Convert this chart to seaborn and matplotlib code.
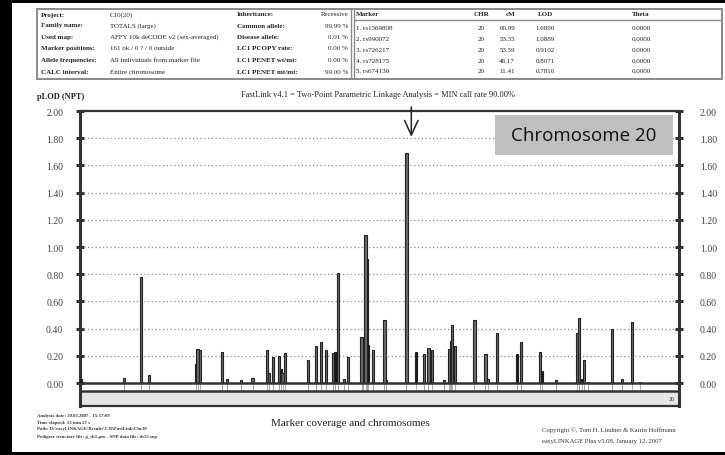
import numpy as np
import pandas as pd
import matplotlib
matplotlib.use("Agg")
import matplotlib.pyplot as plt
import seaborn as sns
from matplotlib.patches import Rectangle
from matplotlib.lines import Line2D

# ---- marker positions (cM), two-point LOD scores and bar tone ----
marker_cm = [0.20, 8.23, 11.41, 12.90, 21.60, 21.97, 22.48, 26.58, 27.52, 30.07,
             32.24, 34.98, 35.36, 36.10, 37.22, 37.54, 37.84, 38.29, 42.58, 44.07,
             45.01, 45.94, 47.30, 47.73, 48.17, 49.30, 50.10, 52.59, 52.90, 53.35,
             53.59, 53.80, 54.71, 56.88, 57.10, 60.99, 62.74, 64.29, 65.09, 65.73,
             68.02, 68.90, 69.14, 69.33, 69.46, 70.02, 73.68, 75.73, 76.24, 77.86,
             81.65, 82.34, 86.00, 86.32, 88.87, 92.79, 93.28, 93.84, 94.10, 94.85,
             99.38, 101.20, 103.06, 104.60]
marker_lod = [0.03, 0.04, 0.7816, 0.06, 0.14, 0.25, 0.24, 0.23, 0.03, 0.02,
              0.04, 0.24, 0.07, 0.19, 0.20, 0.10, 0.07, 0.22, 0.17, 0.27,
              0.30, 0.24, 0.22, 0.23, 0.8071, 0.03, 0.19, 0.34, 0.29, 1.0889,
              0.9102, 0.28, 0.24, 0.46, 0.02, 1.6890, 0.23, 0.21, 0.26, 0.24,
              0.02, 0.25, 0.22, 0.31, 0.43, 0.27, 0.46, 0.21, 0.03, 0.37,
              0.21, 0.30, 0.23, 0.09, 0.02, 0.37, 0.48, 0.03, 0.17, 0.01,
              0.40, 0.03, 0.45, 0.01]
marker_tone = ["dark", "light", "light", "light", "light", "light", "light", "light", "light", "light",
               "light", "light", "light", "light", "light", "dark", "light", "light", "light", "light",
               "light", "light", "light", "dark", "light", "light", "light", "light", "dark", "light",
               "dark", "dark", "light", "light", "dark", "light", "dark", "light", "light", "light",
               "light", "light", "dark", "light", "light", "light", "light", "light", "light", "light",
               "dark", "light", "light", "dark", "light", "light", "light", "dark", "light", "light",
               "light", "light", "light", "light"]
chrom_length_cm = 111.9

y_ticks = [0.0, 0.2, 0.4, 0.6, 0.8, 1.0, 1.2, 1.4, 1.6, 1.8, 2.0]

# ---- header tables ----
setup_labels = ["Project:", "Family name:", "Used map:", "Marker positions:",
                "Allele frequencies:", "CALC interval:"]
setup_values = ["C10(20)", "TOTALS (large)", "AFFY 10k deCODE v2 (sex-averaged)",
                "161 ok / 0 ? / 0 outside", "All individuals from marker file",
                "Entire chromosome"]
model_labels = ["Inheritance:", "Common allele:", "Disease allele:", "LC1 PCOPY rate:",
                "LC1 PENET wt/mt:", "LC1 PENET mt/mt:"]
model_values = ["Recessive", "99.99 %", "0.01 %", "0.00 %", "0.00 %", "99.00 %"]

top_markers = ["1. rs1569808", "2. rs990072", "3. rs726217", "4. rs728175", "5. rs674130"]
top_chr = ["20", "20", "20", "20", "20"]
top_cm = ["60.99", "53.35", "53.59", "48.17", "11.41"]
top_lod = ["1.6890", "1.0889", "0.9102", "0.8071", "0.7816"]
top_theta = ["0.0000", "0.0000", "0.0000", "0.0000", "0.0000"]

title_text = "FastLink v4.1 = Two-Point Parametric Linkage Analysis = MIN call rate 90.00%"
footer_left = ["Analysis date: 20.03.2007 - 15:57:09",
               "Time elapsed: 13 min 27 s",
               "Path: D:\\easyLINKAGE\\Results\\C10\\FastLink\\Chr20",
               "Pedigree structure file: g_ds1.pro - SNP data file: ds15.snp"]
footer_right = ["Copyright \u00a9, Tom H. Lindner & Katrin Hoffmann",
                "easyLINKAGE Plus v5.08, January 12, 2007"]

W, H = 725, 456


def fx(px):
    return px / W


def fy(py):
    return 1 - py / H


sns.set_theme(style="white")
plt.rcParams["font.family"] = ["Liberation Serif", "DejaVu Serif"]

fig = plt.figure(figsize=(W / 100, H / 100), dpi=100)
fig.patch.set_facecolor("white")

# ---- main LOD panel ----
ax_left, ax_right, ax_top, ax_bottom = 80, 679, 112, 407
ax = fig.add_axes([fx(ax_left), fy(ax_bottom), (ax_right - ax_left) / W, (ax_bottom - ax_top) / H])

px_per_unit = 136.0
y_floor = -(ax_bottom - 384) / px_per_unit
strip_low = -(392 - 384) / px_per_unit

df = pd.DataFrame({"cm": marker_cm, "lod": marker_lod, "tone": marker_tone})
sns.barplot(data=df, x="cm", y="lod", hue="tone", native_scale=True, dodge=False,
            palette={"light": "#6c6c6c", "dark": "#161616"}, errorbar=None, legend=False,
            edgecolor="#222222", linewidth=0.8, ax=ax, zorder=3)
bar_w = 0.42
for p in ax.patches:
    c = p.get_x() + p.get_width() / 2
    p.set_width(bar_w)
    p.set_x(c - bar_w / 2)

ax.set_xlim(0, chrom_length_cm)
ax.set_ylim(y_floor, 2.0)
ax.set_xlabel("")
ax.set_ylabel("")
ax.set_xticks([])
ax.set_yticks(y_ticks)
ax.set_yticklabels([f"{v:.2f}" for v in y_ticks])
ax.tick_params(axis="y", direction="inout", length=6, width=2.2, color="#333333",
               labelsize=7, pad=9, left=True, labelcolor="#444444")

for v in y_ticks[1:-1]:
    ax.axhline(v, color="#8c8c8c", lw=0.9, ls=(0, (1, 2)), zorder=1)

# marker coverage strip and chromosome band
ax.axhline(0, color="#333333", lw=1.8, zorder=4)
ax.axhline(strip_low, color="#333333", lw=1.8, zorder=4)
ax.vlines(marker_cm, strip_low, 0, color="#9a9a9a", lw=0.6, zorder=2)
ax.axhspan(y_floor, strip_low, color="#e6e6e6", zorder=0)
ax.text(chrom_length_cm - 0.8, (y_floor + strip_low) / 2, "20", ha="right", va="center",
        fontsize=4.5, color="#333333")

for side in ["left", "right"]:
    ax.spines[side].set_linewidth(2.2)
    ax.spines[side].set_color("#333333")
for side in ["top", "bottom"]:
    ax.spines[side].set_linewidth(1.6)
    ax.spines[side].set_color("#333333")

ax2 = ax.twinx()
ax2.set_ylim(ax.get_ylim())
ax2.set_yticks(y_ticks)
ax2.set_yticklabels([f"{v:.2f}" for v in y_ticks])
ax2.tick_params(axis="y", direction="inout", length=6, width=2.2, color="#333333",
                labelsize=7, pad=12, labelcolor="#444444")
ax2.grid(False)
for s in ax2.spines.values():
    s.set_visible(False)

# arrow pointing at the top-scoring marker
peak_i = int(np.argmax(marker_lod))
arrow_x = marker_cm[peak_i] + 0.9
ax.annotate("", xy=(arrow_x, 1.79), xytext=(arrow_x, 2.05), xycoords="data",
            arrowprops=dict(arrowstyle="->,head_length=0.75,head_width=0.35",
                            mutation_scale=14, lw=1.1, color="#222222"),
            annotation_clip=False, zorder=6)

# chromosome caption box
ax.add_patch(Rectangle((0.693, 0.851), 0.297, 0.135, transform=ax.transAxes,
                       facecolor="#bfbfbf", edgecolor="none", zorder=5))
ax.text(0.693 + 0.297 / 2, 0.851 + 0.135 / 2, "Chromosome 20", transform=ax.transAxes,
        ha="center", va="center", fontsize=13.5, family="Open Sans", fontweight="medium",
        color="#111111", zorder=6)

# ---- header tables ----
fig.patches.append(Rectangle((fx(37), fy(80)), (722 - 37) / W, 70 / H, transform=fig.transFigure,
                             fill=False, edgecolor="#8a8a8a", lw=1.4))
fig.lines.append(Line2D([fx(351), fx(351)], [fy(10), fy(80)], transform=fig.transFigure,
                        color="#8a8a8a", lw=1.0))
fig.lines.append(Line2D([fx(353.5), fx(353.5)], [fy(10), fy(80)], transform=fig.transFigure,
                        color="#8a8a8a", lw=1.0))
fig.lines.append(Line2D([fx(353.5), fx(722)], [fy(21), fy(21)], transform=fig.transFigure,
                        color="#8a8a8a", lw=1.0))

row_y = [15, 26, 37.3, 49, 60.7, 72]
tfs = 5.0
for i in range(6):
    y = fy(row_y[i])
    fig.text(fx(41), y, setup_labels[i], fontsize=tfs, fontweight="bold", va="center", color="#222222")
    fig.text(fx(110), y, setup_values[i], fontsize=tfs, va="center", color="#222222")
    fig.text(fx(237), y, model_labels[i], fontsize=tfs, fontweight="bold", va="center", color="#222222")
    fig.text(fx(348), y, model_values[i], fontsize=tfs, va="center", ha="right", color="#222222")

hy = fy(15)
fig.text(fx(356), hy, "Marker", fontsize=tfs, fontweight="bold", va="center", color="#222222")
fig.text(fx(489), hy, "CHR", fontsize=tfs, fontweight="bold", va="center", ha="right", color="#222222")
fig.text(fx(515), hy, "cM", fontsize=tfs, fontweight="bold", va="center", ha="right", color="#222222")
fig.text(fx(545), hy, "LOD", fontsize=tfs, fontweight="bold", va="center", ha="center", color="#222222")
fig.text(fx(641), hy, "Theta", fontsize=tfs, fontweight="bold", va="center", ha="center", color="#222222")
top_row_y = [28.3, 39.3, 50.7, 61.7, 71.7]
for i in range(5):
    y = fy(top_row_y[i])
    fig.text(fx(356), y, top_markers[i], fontsize=tfs, va="center", color="#222222")
    fig.text(fx(485), y, top_chr[i], fontsize=tfs, va="center", ha="right", color="#222222")
    fig.text(fx(515), y, top_cm[i], fontsize=tfs, va="center", ha="right", color="#222222")
    fig.text(fx(545), y, top_lod[i], fontsize=tfs, va="center", ha="center", color="#222222")
    fig.text(fx(641), y, top_theta[i], fontsize=tfs, va="center", ha="center", color="#222222")

# ---- titles and footers ----
fig.text(fx(378), fy(95), title_text, fontsize=6, ha="center", va="center", color="#222222")
fig.text(fx(37), fy(97), "pLOD (NPT)", fontsize=6, fontweight="bold", ha="left", va="center",
         color="#222222")
fig.text(fx(350), fy(424), "Marker coverage and chromosomes", fontsize=8, ha="center", va="center",
         color="#222222")
for i, line in enumerate(footer_left):
    fig.text(fx(37), fy([416, 423, 429.5, 437][i]), line, fontsize=3.4, fontweight="bold",
             ha="left", va="center", color="#333333")
for i, line in enumerate(footer_right):
    fig.text(fx(542), fy([430, 442][i]), line, fontsize=4.8, ha="left", va="center", color="#333333")

# ---- black page frame ----
for (x0, y0, x1, y1) in [(0, 0, 12, 456), (0, 0, 725, 4), (0, 453, 725, 456)]:
    fig.patches.append(Rectangle((fx(x0), fy(y1)), (x1 - x0) / W, (y1 - y0) / H,
                                 transform=fig.transFigure, facecolor="black", edgecolor="none"))

fig.savefig("out.png", dpi=100)
